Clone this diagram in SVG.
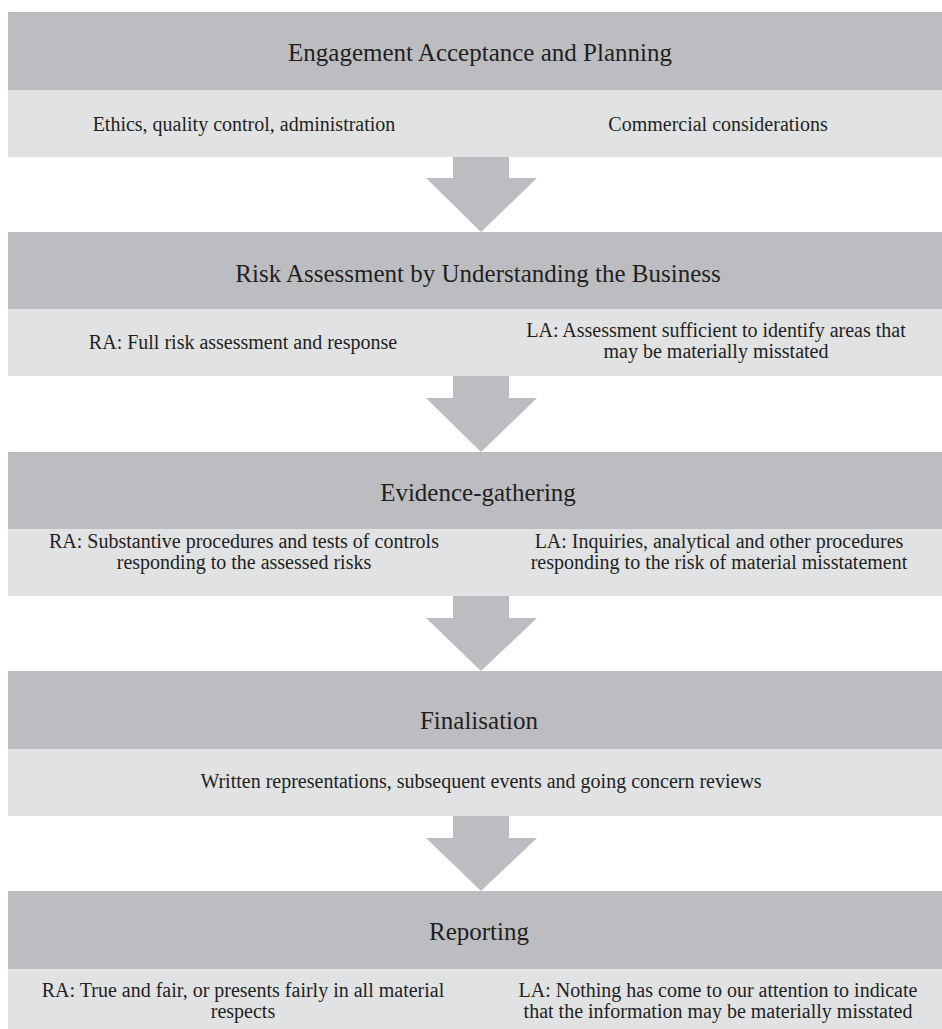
<svg xmlns="http://www.w3.org/2000/svg" width="942" height="1029" viewBox="0 0 942 1029">
<style>
.hd{fill:#bcbdc0}
.sb{fill:#e1e2e4}
.ar{fill:#bcbdc0}
text{font-family:"Liberation Serif","Times New Roman",serif;fill:#231f20;text-anchor:middle}
.t{font-size:25px}
.s{font-size:20px}
</style>
<rect width="942" height="1029" fill="#ffffff"/>
<g id="connectors">
<polygon class="ar" points="453,157 509,157 509,178 537,178 481,232 426,178 453,178"/>
<polygon class="ar" points="453,376 509,376 509,398 537,398 481,452 426,398 453,398"/>
<polygon class="ar" points="453,596 509,596 509,618 537,618 481,671 426,618 453,618"/>
<polygon class="ar" points="453,816 509,816 509,838 537,838 481,891 426,838 453,838"/>
</g>
<g id="engagement">
<rect class="hd" x="8" y="12" width="934" height="78"/>
<rect class="sb" x="8" y="90" width="934" height="67"/>
<text class="t" x="480" y="61">Engagement Acceptance and Planning</text>
<text class="s" x="244" y="131">Ethics, quality control, administration</text>
<text class="s" x="718" y="131">Commercial considerations</text>
</g>
<g id="risk-assessment">
<rect class="hd" x="8" y="232" width="934" height="77"/>
<rect class="sb" x="8" y="309" width="934" height="67"/>
<text class="t" x="478" y="282">Risk Assessment by Understanding the Business</text>
<text class="s" x="243" y="349">RA: Full risk assessment and response</text>
<text class="s" x="716" y="337">LA: Assessment sufficient to identify areas that</text>
<text class="s" x="716" y="358">may be materially misstated</text>
</g>
<g id="evidence">
<rect class="hd" x="8" y="452" width="934" height="77"/>
<rect class="sb" x="8" y="529" width="934" height="67"/>
<text class="t" x="478" y="501">Evidence-gathering</text>
<text class="s" x="244" y="548">RA: Substantive procedures and tests of controls</text>
<text class="s" x="244" y="569">responding to the assessed risks</text>
<text class="s" x="719" y="548">LA: Inquiries, analytical and other procedures</text>
<text class="s" x="719" y="569">responding to the risk of material misstatement</text>
</g>
<g id="finalisation">
<rect class="hd" x="8" y="671" width="934" height="78"/>
<rect class="sb" x="8" y="749" width="934" height="67"/>
<text class="t" x="479" y="729">Finalisation</text>
<text class="s" x="481" y="788">Written representations, subsequent events and going concern reviews</text>
</g>
<g id="reporting">
<rect class="hd" x="8" y="891" width="934" height="78"/>
<rect class="sb" x="8" y="969" width="934" height="60"/>
<text class="t" x="479" y="940">Reporting</text>
<text class="s" x="243" y="997">RA: True and fair, or presents fairly in all material</text>
<text class="s" x="243" y="1018">respects</text>
<text class="s" x="718" y="997">LA: Nothing has come to our attention to indicate</text>
<text class="s" x="718" y="1018">that the information may be materially misstated</text>
</g>
</svg>
